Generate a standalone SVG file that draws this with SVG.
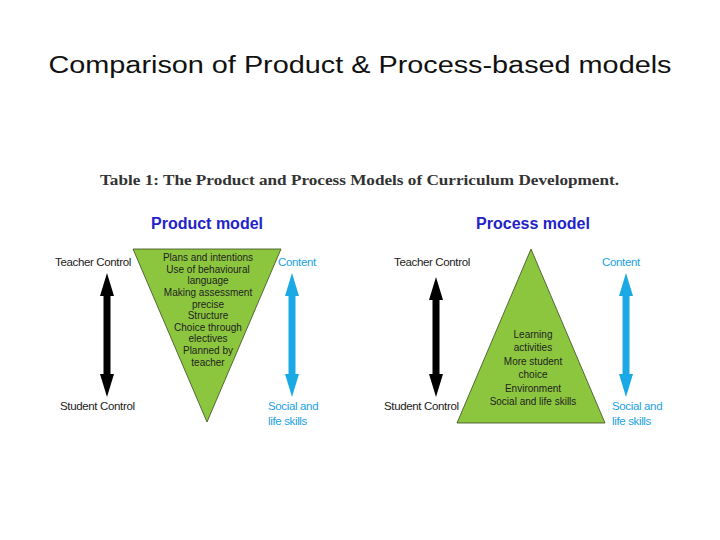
<svg xmlns="http://www.w3.org/2000/svg" width="720" height="540" viewBox="0 0 720 540">
<style>
.lbl{font-family:"Liberation Sans",Arial,sans-serif;font-size:11.5px;letter-spacing:-0.35px}
.dk{fill:#1a1a1a}
.bl{fill:#1ba1e2}
.tri{fill:#8cc63f;stroke:#3a4a20;stroke-width:0.8}
.tt{font-family:"Liberation Sans",Arial,sans-serif;font-size:10px;fill:#222;text-anchor:middle}
.hd{font-family:"Liberation Sans",Arial,sans-serif;font-size:16px;font-weight:bold;fill:#2323c8;text-anchor:middle}
</style>
<rect width="720" height="540" fill="#fff"/>
<text x="360" y="73" font-family="Liberation Sans,Arial,sans-serif" font-size="23.5" fill="#111" text-anchor="middle" textLength="623" lengthAdjust="spacingAndGlyphs">Comparison of Product &amp; Process-based models</text>
<text x="100" y="185" font-family="Liberation Serif,Times New Roman,serif" font-size="15" font-weight="bold" fill="#333" textLength="519" lengthAdjust="spacingAndGlyphs">Table 1: The Product and Process Models of Curriculum Development.</text>
<g id="product">
<text class="hd" x="207" y="229">Product model</text>
<polygon class="tri" points="133,249 281,249 207,422"/>
<text class="tt" x="208" y="261">Plans and intentions</text>
<text class="tt" x="208" y="273">Use of behavioural</text>
<text class="tt" x="208" y="284">language</text>
<text class="tt" x="208" y="296">Making assessment</text>
<text class="tt" x="208" y="308">precise</text>
<text class="tt" x="208" y="319">Structure</text>
<text class="tt" x="208" y="331">Choice through</text>
<text class="tt" x="208" y="342">electives</text>
<text class="tt" x="208" y="354">Planned by</text>
<text class="tt" x="208" y="366">teacher</text>
<text class="lbl dk" x="55" y="266">Teacher Control</text>
<text class="lbl dk" x="60" y="410">Student Control</text>
<text class="lbl bl" x="278" y="266">Content</text>
<text class="lbl bl" x="268" y="410">Social and</text>
<text class="lbl bl" x="268" y="425">life skills</text>
</g>
<g id="process">
<text class="hd" x="533" y="229">Process model</text>
<polygon class="tri" points="531,249 605,423 457,423"/>
<text class="tt" x="533" y="338">Learning</text>
<text class="tt" x="533" y="351">activities</text>
<text class="tt" x="533" y="365">More student</text>
<text class="tt" x="533" y="378">choice</text>
<text class="tt" x="533" y="392">Environment</text>
<text class="tt" x="533" y="405">Social and life skills</text>
<text class="lbl dk" x="394" y="266">Teacher Control</text>
<text class="lbl dk" x="384" y="410">Student Control</text>
<text class="lbl bl" x="602" y="266">Content</text>
<text class="lbl bl" x="612" y="410">Social and</text>
<text class="lbl bl" x="612" y="425">life skills</text>
</g>
<g id="connectors">
<polygon fill="#000" points="107,273 114,296 110.5,296 110.5,374 114,374 107,397 100,374 103.5,374 103.5,296 100,296"/>
<polygon fill="#1ba9e6" points="292,273 299,296 295.5,296 295.5,374 299,374 292,397 285,374 288.5,374 288.5,296 285,296"/>
<polygon fill="#000" points="436,277 443,300 439.5,300 439.5,374 443,374 436,397 429,374 432.5,374 432.5,300 429,300"/>
<polygon fill="#1ba9e6" points="626,273 633,296 629.5,296 629.5,374 633,374 626,397 619,374 622.5,374 622.5,296 619,296"/>
</g>
</svg>
